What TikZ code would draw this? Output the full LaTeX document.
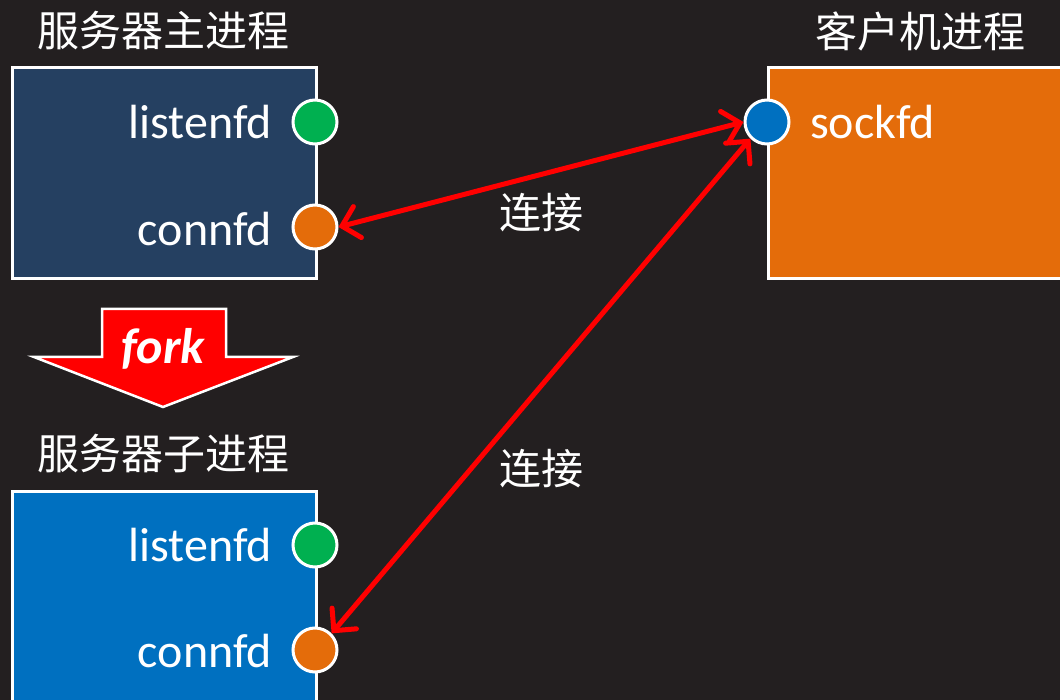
\documentclass[tikz,border=0pt]{standalone}
\usepackage{fontspec}
\setmainfont{Carlito}
\newfontfamily\cjk{Noto Sans CJK SC}
\usetikzlibrary{arrows.meta}
\definecolor{bg}{HTML}{231F20}
\definecolor{mainblue}{HTML}{254061}
\definecolor{childblue}{HTML}{0070C0}
\definecolor{cliorange}{HTML}{E46C0A}
\definecolor{fdgreen}{HTML}{00B050}
\definecolor{arrred}{HTML}{FF0000}
\tikzset{
  procbox/.style={draw=white, line width=3pt},
  fdcirc/.style={circle, draw=white, line width=3pt, minimum size=44pt, inner sep=0pt},
  fdlabel/.style={text=white, font=\fontsize{48}{52}\selectfont, anchor=east, inner sep=0pt},
  title/.style={text=white, font=\cjk\fontsize{42}{46}\selectfont, inner sep=0pt},
  conn/.style={draw=arrred, line width=5pt, line cap=round, {Straight Barb[length=16pt,width=32pt,line cap=round]}-{Straight Barb[length=16pt,width=32pt,line cap=round]}},
}
\begin{document}
\begin{tikzpicture}[x=1pt,y=-1pt]
\fill[bg] (0,0) rectangle (1060,700);
\useasboundingbox (0,0) rectangle (1060,700);
% boxes
\draw[procbox, fill=mainblue] (12,68) rectangle (316,279);
\draw[procbox, fill=cliorange] (768,68) rectangle (1075,279);
\draw[procbox, fill=childblue] (12,491) rectangle (316,715);
% titles
\node[title] (t1) at (163,31) {服务器主进程};
\node[title] (t2) at (920,31) {客户机进程};
\node[title] (t3) at (163,454) {服务器子进程};
% circles
\node[fdcirc, fill=fdgreen] (lm) at (315,122) {};
\node[fdcirc, fill=cliorange] (cm) at (315,227) {};
\node[fdcirc, fill=childblue] (sk) at (767,122) {};
\node[fdcirc, fill=fdgreen] (lc) at (315,545) {};
\node[fdcirc, fill=cliorange] (cc) at (315,650) {};
% labels
\node[fdlabel] (l1) at (272,122) {listenfd};
\node[fdlabel] (l2) at (272,229) {connfd};
\node[fdlabel, anchor=west] (l3) at (810,122) {sockfd};
\node[fdlabel] (l4) at (272,545) {listenfd};
\node[fdlabel] (l5) at (272,651) {connfd};
% connections
\draw[conn] (cm.east) -- (sk.west);
\draw[conn] (cc.north east) -- (sk.south west);
\node[title] (c1) at (541,213) {连接};
\node[title] (c2) at (541,469) {连接};
% fork arrow
\draw[draw=white, fill=arrred, line width=2.5pt, line join=miter]
  (102,309) -- (226,309) -- (226,357) -- (293,357) -- (163,407) -- (34,357) -- (102,357) -- cycle;
\node[text=white, font=\bfseries\itshape\fontsize{50}{54}\selectfont, inner sep=0pt] (fk) at (163,349) {fork};
\end{tikzpicture}
\end{document}
